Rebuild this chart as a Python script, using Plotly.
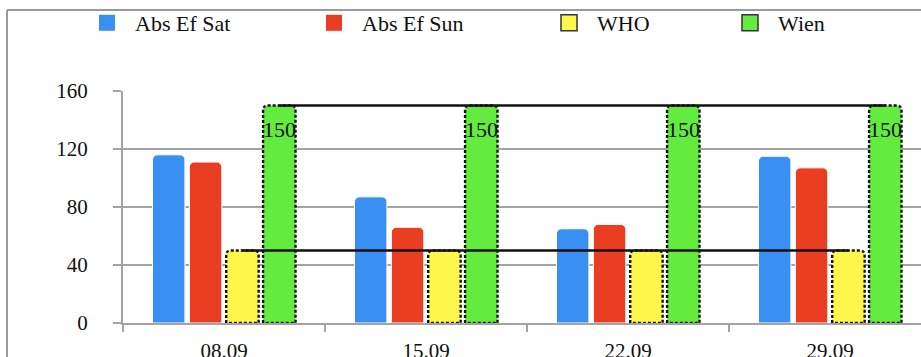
import plotly.graph_objects as go

# ---- data ----
categories = ["08.09", "15.09", "22.09", "29.09"]
abs_ef_sat = [116, 87, 65, 115]
abs_ef_sun = [111, 66, 68, 107]
who = [50, 50, 50, 50]
wien = [150, 150, 150, 150]
y_ticks = [0, 40, 80, 120, 160]
series_names = ["Abs Ef Sat", "Abs Ef Sun", "WHO", "Wien"]

# ---- layout constants ----
W, H = 921, 357
ML, MR, MT, MB = 123, 0, 91, 34
PW, PH = W - ML - MR, H - MT - MB
BAND_PX = 202
BARGAP, GROUPGAP = 0.27, 0.12
XR = [-0.5, -0.5 + PW / BAND_PX]
YR = [0, 160]
px_x = PW / (XR[1] - XR[0])
px_y = PH / (YR[1] - YR[0])
FONT = "Liberation Serif"
colors = ["#3a90f2", "#ea3e23", "#fff64c", "#63ec3f"]
GRID = "#a3a3a3"

n_series = 4
slot = (1 - BARGAP) / n_series
half = slot * (1 - GROUPGAP) / 2


def offset(i):
    return -(1 - BARGAP) / 2 + (i + 0.5) * slot


def paper_x(px):
    return (px - ML) / PW


def paper_y(py):
    return (H - MB - py) / PH


xs = list(range(len(categories)))
all_values = [abs_ef_sat, abs_ef_sun, who, wien]

fig = go.Figure()
for i, (name, vals) in enumerate(zip(series_names, all_values)):
    fig.add_trace(go.Bar(
        x=xs, y=vals, name=name, showlegend=False,
        marker=dict(color=colors[i],
                    line=dict(color="white", width=1 if i < 2 else 0)),
        hoverinfo="y",
    ))

# reference lines across WHO and Wien bars
for i, vals in ((2, who), (3, wien)):
    fig.add_trace(go.Scatter(
        x=[x + offset(i) for x in xs], y=vals, mode="lines",
        line=dict(color="#111111", width=2.5), showlegend=False,
        hoverinfo="skip",
    ))

# legend-only entries
legend_text_px = [135, 362, 597, 778]
legend_names = ["legend", "legend2", "legend3", "legend4"]
ITEMW = 46
for i, name in enumerate(series_names):
    fig.add_trace(go.Scatter(
        x=[None], y=[None], mode="markers", name=name,
        legend=legend_names[i],
        marker=dict(symbol="square", size=16, color=colors[i],
                    line=dict(color="#333333" if i >= 2 else colors[i],
                              width=1.5 if i >= 2 else 0)),
    ))

# dotted outlines for WHO / Wien bars
shapes = []
R = 5
for i, vals in ((2, who), (3, wien)):
    for x, top in zip(xs, vals):
        xc = x + offset(i)
        x0, x1 = xc - half, xc + half
        rx, ry = R / px_x, R / px_y
        path = (f"M{x0},0 L{x0},{top - ry} Q{x0},{top} {x0 + rx},{top} "
                f"L{x1 - rx},{top} Q{x1},{top} {x1},{top - ry} L{x1},0 Z")
        shapes.append(dict(type="path", path=path, xref="x", yref="y",
                           line=dict(color="#111111", width=2.4, dash="3px,2px"),
                           layer="above"))

# outer frame (top + left)
shapes.append(dict(type="line", xref="paper", yref="paper",
                   x0=paper_x(7), x1=paper_x(W + 5), y0=paper_y(10), y1=paper_y(10),
                   line=dict(color="#9a9a9a", width=2)))
shapes.append(dict(type="line", xref="paper", yref="paper",
                   x0=paper_x(7), x1=paper_x(7), y0=paper_y(10), y1=paper_y(H + 5),
                   line=dict(color="#9a9a9a", width=2)))

annotations = []
for x, v in zip(xs, wien):
    annotations.append(dict(x=x + offset(3), y=v, xref="x", yref="y",
                            text=str(v), showarrow=False, yanchor="top",
                            yshift=-9, font=dict(family=FONT, size=22, color="#111111")))

legends = {}
for i, ln in enumerate(legend_names):
    legends[ln] = dict(
        orientation="h", x=paper_x(legend_text_px[i] - ITEMW - 10), xanchor="left",
        y=paper_y(23), yanchor="middle", bgcolor="rgba(0,0,0,0)",
        itemwidth=ITEMW,
        font=dict(family=FONT, size=22, color="#111111"),
    )

fig.update_layout(
    width=W, height=H,
    margin=dict(l=ML, r=MR, t=MT, b=MB, autoexpand=False),
    paper_bgcolor="white", plot_bgcolor="white",
    barmode="group", bargap=BARGAP, bargroupgap=GROUPGAP,
    barcornerradius=R,
    shapes=shapes, annotations=annotations,
    font=dict(family=FONT, size=21, color="#111111"),
    **legends,
)
fig.update_xaxes(
    range=XR, tickvals=xs, ticktext=categories, ticks="",
    showgrid=False, zeroline=False, showline=True, linecolor=GRID, linewidth=2,
    minor=dict(tickvals=[x - 0.5 for x in xs], ticks="outside", ticklen=7,
               tickcolor=GRID, tickwidth=2, showgrid=False),
    ticklabelstandoff=8,
    tickfont=dict(family=FONT, size=21, color="#111111"),
)
fig.update_yaxes(
    range=YR, tickvals=y_ticks, ticks="outside", ticklen=8, tickcolor=GRID,
    tickwidth=2, showgrid=True, gridcolor=GRID, gridwidth=2, zeroline=False,
    showline=True, linecolor=GRID, linewidth=2, ticklabelstandoff=21,
    tickfont=dict(family=FONT, size=21, color="#111111"),
)

fig.write_html("out.html", config={"displayModeBar": False},
               post_script="document.body.style.margin='0px';")
